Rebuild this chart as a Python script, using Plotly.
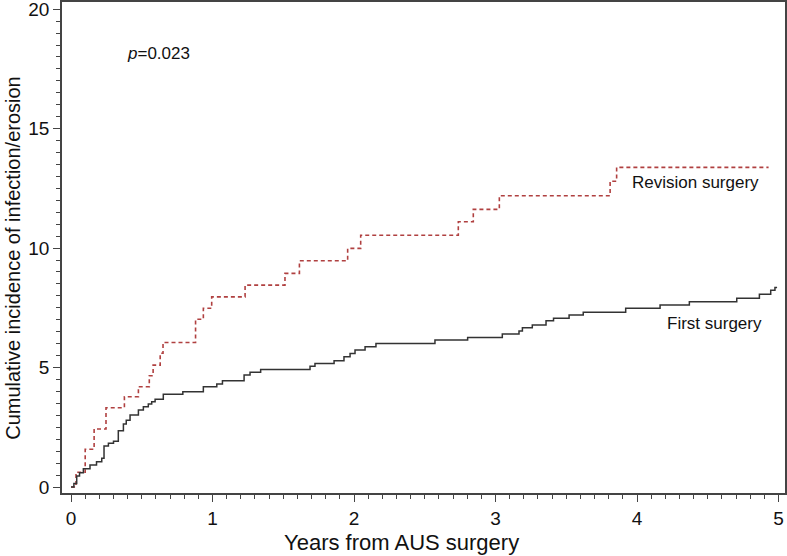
import plotly.graph_objects as go

# First surgery (solid black) step curve
first_years = [0, 0.02, 0.04, 0.06, 0.087, 0.134, 0.18, 0.217, 0.233, 0.264, 0.30, 0.334, 0.37, 0.39,
               0.417, 0.476, 0.511, 0.546, 0.57, 0.594, 0.652, 0.79, 0.935, 1.03, 1.07, 1.223, 1.265,
               1.34, 1.689, 1.724, 1.859, 1.929, 1.972, 2.007, 2.078, 2.155, 2.572, 2.803, 3.048, 3.166,
               3.19, 3.26, 3.357, 3.41, 3.52, 3.62, 3.92, 4.163, 4.37, 4.705, 4.865, 4.945, 4.975, 4.99]
first_inc = [0, 0.15, 0.46, 0.6, 0.77, 0.92, 1.06, 1.2, 1.72, 1.83, 1.92, 2.36, 2.64, 2.8,
             3.01, 3.22, 3.36, 3.47, 3.57, 3.67, 3.88, 3.99, 4.2, 4.31, 4.45, 4.69, 4.8,
             4.92, 5.06, 5.17, 5.29, 5.45, 5.59, 5.73, 5.87, 6.01, 6.15, 6.26, 6.4, 6.53,
             6.67, 6.78, 6.96, 7.06, 7.2, 7.31, 7.48, 7.62, 7.75, 7.9, 8.07, 8.24, 8.35, 8.35]

# Revision surgery (red dashed) step curve
rev_years = [0, 0.035, 0.10, 0.163, 0.247, 0.377, 0.476, 0.553, 0.58, 0.63, 0.65, 0.88, 0.935, 0.994,
             1.23, 1.512, 1.614, 1.955, 2.047, 2.737, 2.843, 3.027, 3.81, 3.856, 4.93]
rev_inc = [0, 0.62, 1.58, 2.43, 3.32, 3.78, 4.2, 4.66, 5.1, 5.6, 6.05, 7.02, 7.48, 7.96,
           8.45, 8.94, 9.47, 9.99, 10.54, 11.1, 11.62, 12.19, 12.8, 13.38, 13.38]

x_ticks = [0, 1, 2, 3, 4, 5]
y_ticks = [0, 5, 10, 15, 20]

FONT = "Liberation Sans, Arial, sans-serif"
AXC = "#444444"

fig = go.Figure()
fig.add_trace(go.Scatter(x=rev_years, y=rev_inc, mode="lines", line_shape="hv",
                         line=dict(color="#b04040", width=1.6, dash="4px,3px"),
                         name="Revision surgery", showlegend=False))
fig.add_trace(go.Scatter(x=first_years, y=first_inc, mode="lines", line_shape="hv",
                         line=dict(color="#333333", width=1.5),
                         name="First surgery", showlegend=False))

fig.add_annotation(x=3.95, y=12.76, text="Revision surgery", showarrow=False, xanchor="left",
                   yanchor="middle", font=dict(family=FONT, size=17, color="#111111"))
fig.add_annotation(x=4.2, y=6.86, text="First surgery", showarrow=False, xanchor="left",
                   yanchor="middle", font=dict(family=FONT, size=17, color="#111111"))
fig.add_annotation(x=(125 - 71) / 141.5, y=(487 - 53) / 23.9, text="<i>p</i>=0.023", showarrow=False,
                   xanchor="left", yanchor="middle", font=dict(family=FONT, size=17, color="#111111"))

# Axis titles as paper-positioned annotations
fig.add_annotation(xref="paper", yref="paper", x=0.469, y=-0.0998, text="Years from AUS surgery",
                   showarrow=False, xanchor="center", yanchor="middle",
                   font=dict(family=FONT, size=22, color="#111111"))
fig.add_annotation(xref="paper", yref="paper", x=-0.0678, y=0.479,
                   text="Cumulative incidence of infection/erosion", textangle=-90,
                   showarrow=False, xanchor="center", yanchor="middle",
                   font=dict(family=FONT, size=20, color="#111111"))

fig.update_layout(
    width=787, height=556,
    margin=dict(l=62, r=2, t=2, b=63),
    paper_bgcolor="white", plot_bgcolor="white",
    font=dict(family=FONT, color="#111111"),
    xaxis=dict(range=[-0.064, 5.046], tickvals=x_ticks, ticktext=[str(v) for v in x_ticks],
               automargin=False, ticklabeloverflow="allow",
               showgrid=False, zeroline=False, showline=True, linecolor=AXC, linewidth=1.5,
               mirror=True, ticks="outside", ticklen=7, tickcolor=AXC, tickwidth=1.3,
               tickfont=dict(size=19),
               minor=dict(dtick=0.1, tick0=0, ticks="outside", ticklen=4, tickcolor=AXC, tickwidth=1)),
    yaxis=dict(range=[-0.25, 20.3], tickvals=y_ticks, ticktext=[str(v) for v in y_ticks],
               automargin=False, ticklabeloverflow="allow",
               showgrid=False, zeroline=False, showline=True, linecolor=AXC, linewidth=1.5,
               mirror=True, ticks="outside", ticklen=7, tickcolor=AXC, tickwidth=1.3,
               tickfont=dict(size=19),
               minor=dict(dtick=0.5, tick0=0, ticks="outside", ticklen=4, tickcolor=AXC, tickwidth=1)),
)

fig.write_html("out.html", config={"displayModeBar": False},
               post_script="document.body.style.margin='0';document.body.style.overflow='hidden';"
                           "document.documentElement.style.overflow='hidden';")
